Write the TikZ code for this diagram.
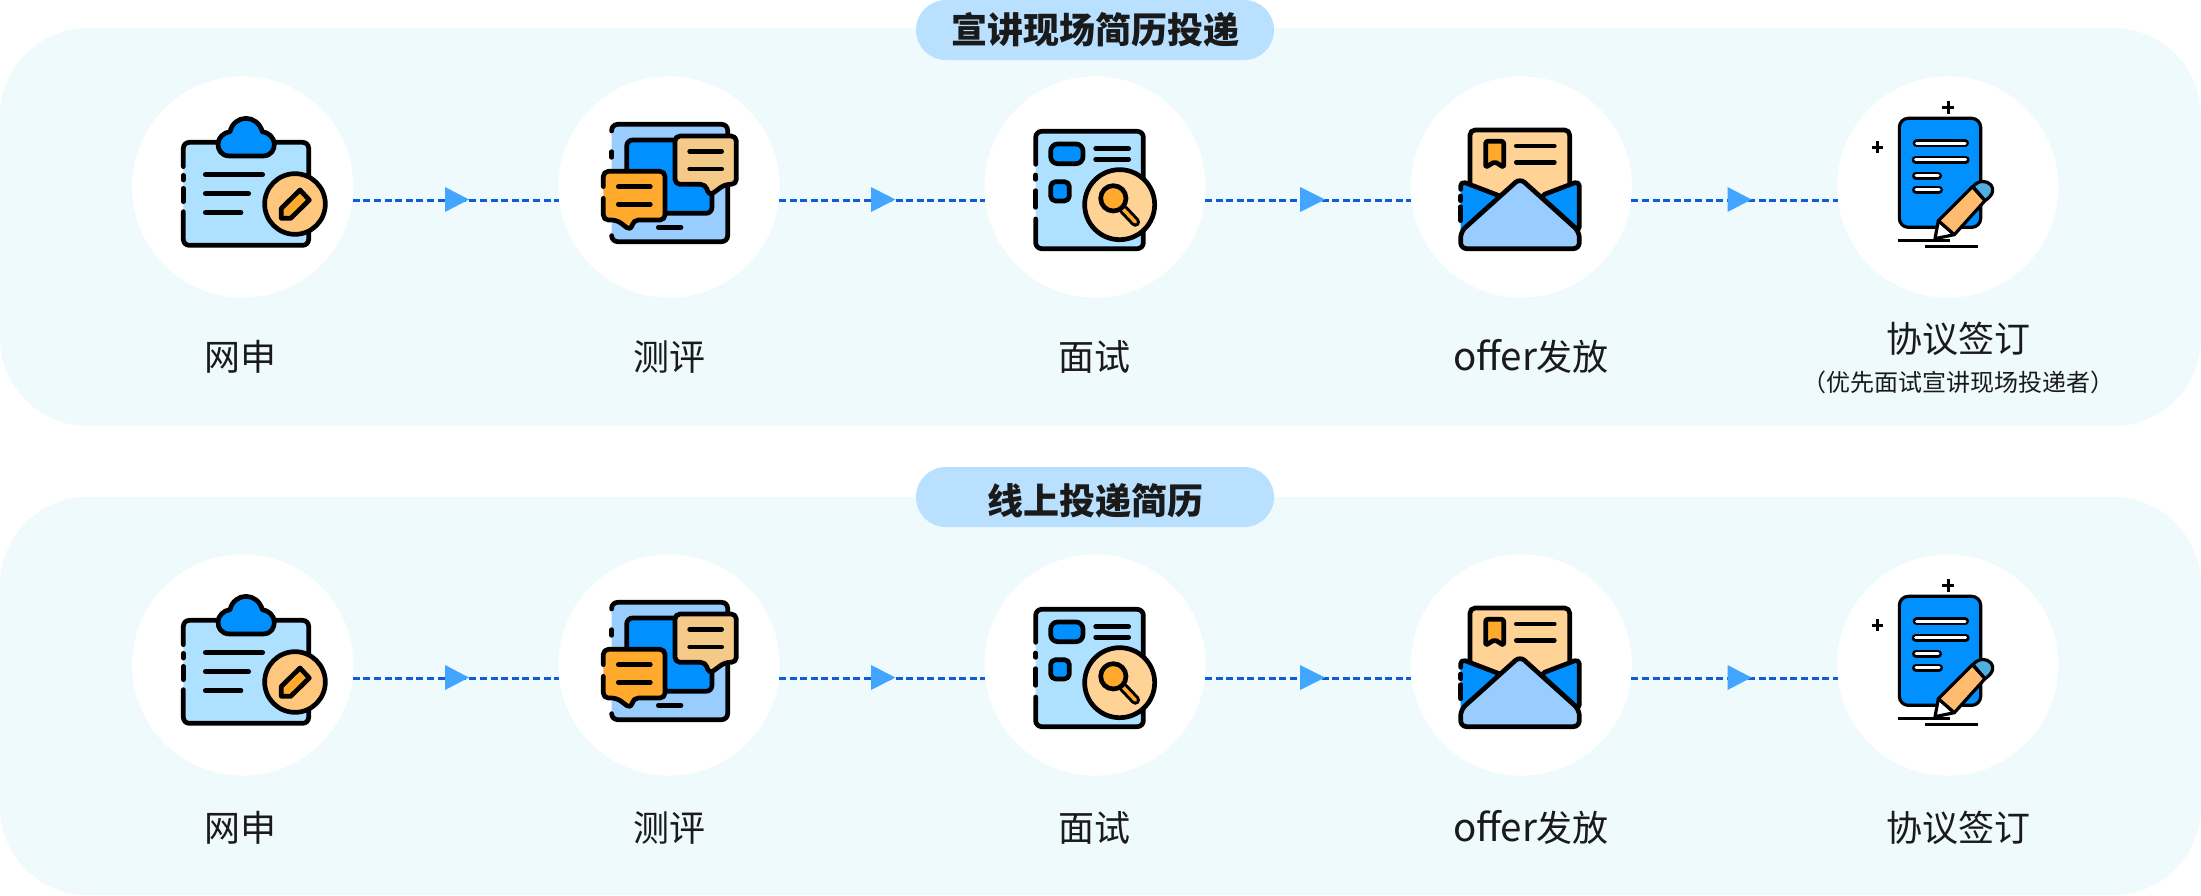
\documentclass[tikz,border=0pt]{standalone}
\usepackage{fontspec}
\setmainfont{Noto Sans CJK SC}
\definecolor{panelbg}{HTML}{EEFAFB}
\definecolor{pillbg}{HTML}{B9E0FF}
\definecolor{dashblue}{HTML}{0F5CD8}
\definecolor{triblue}{HTML}{42A5FF}
\definecolor{inkblack}{HTML}{000000}
\definecolor{txt}{HTML}{1A1A1A}
\definecolor{bluedeep}{HTML}{0090FF}
\definecolor{bluemid}{HTML}{99CCFF}
\definecolor{bluelight}{HTML}{AEE0FF}
\definecolor{orgdeep}{HTML}{FFAA2C}
\definecolor{orgsoft}{HTML}{FFC77D}
\definecolor{orgpale}{HTML}{FFD296}
\definecolor{orgtan}{HTML}{F5C987}
\definecolor{pencilbody}{HTML}{FFBC70}
\definecolor{eraser}{HTML}{4FAFE3}
\tikzset{
  panelbox/.style={fill=panelbg,rounded corners=88pt},
  pillbox/.style={fill=pillbg,draw=none,minimum width=358pt,minimum height=60pt,rounded corners=29.9pt,inner sep=0pt},
  disc/.style={circle,fill=white,draw=none,minimum size=221.4pt,inner sep=0pt},
  conn/.style={draw=dashblue,line width=2.4pt,dash pattern=on 7pt off 3.6pt},
  tri/.style={fill=triblue},
  pilltext/.style={text=txt,font=\fontsize{36}{36}\selectfont\bfseries,inner sep=0pt,text height=30pt,text depth=3pt},
  steptext/.style={text=txt,font=\fontsize{36}{36}\selectfont,inner sep=0pt,text height=30pt,text depth=3pt},
  subtext/.style={text=txt,font=\fontsize{24}{24}\selectfont,inner sep=0pt,text height=20pt,text depth=2pt},
  ic/.style={draw=inkblack,line width=4.7pt,line cap=round,line join=round},
  icthin/.style={draw=inkblack,line width=3.2pt,line cap=round,line join=round},
}
\newcommand{\iconOne}[1]{%
\begin{scope}[shift={(130,70+#1)},x=0.33333pt,y=-0.33333pt]
  \fill[bluelight,rounded corners=6pt] (160,217) rectangle (536,526);
  \draw[ic,rounded corners=6pt] (160,290)--(160,217)--(536,217)--(536,526)--(160,526)--(160,425);
  \draw[ic] (160,316)--(160,330) (160,355)--(160,395);
  \draw[ic,fill=bluedeep] (300,258)--(398,258) .. controls (425,258) and (433,238) .. (433,222) .. controls (433,203) and (415,187) .. (397,185) .. controls (390,160) and (370,145) .. (348,145) .. controls (326,145) and (306,160) .. (300,185) .. controls (282,187) and (264,203) .. (264,222) .. controls (264,238) and (272,258) .. (300,258)--cycle;
  \draw[ic] (226,314)--(398,314) (226,371)--(356,371) (226,428)--(333,428);
  \draw[ic,fill=orgsoft] (495,402) circle[radius=91];
  \draw[ic,fill=orgdeep] (510,360)--(538,390)--(482,445)--(454,445)--(454,415)--cycle;
\end{scope}}
\newcommand{\iconTwo}[1]{%
\begin{scope}[shift={(555,70+#1)},x=0.33333pt,y=-0.33333pt]
  \fill[bluemid,rounded corners=6pt] (170,163) rectangle (518,515);
  \draw[ic,rounded corners=6pt] (170,183)--(170,163)--(518,163)--(518,515)--(170,515)--(170,497);
  \draw[ic] (170,245)--(170,262);
  \draw[ic,fill=bluedeep,rounded corners=6pt] (215,210) rectangle (471,430);
  \draw[ic] (310,472)--(378,472);
  \draw[ic,fill=orgtan,rounded corners=5pt] (360,198)--(544,198)--(544,343)--(510,343)--(462,378)--(452,343)--(360,343)--cycle;
  \draw[ic] (404,244)--(500,244) (404,297)--(500,297);
  \fill[orgdeep,rounded corners=5pt] (145,304)--(330,304)--(330,450)--(235,450)--(228,482)--(185,450)--(145,450)--cycle;
  \draw[ic,rounded corners=5pt] (145,350)--(145,304)--(330,304)--(330,450)--(235,450)--(228,482)--(185,450)--(145,450)--(145,385);
  \draw[ic] (190,350)--(286,350) (190,403)--(286,403);
\end{scope}}
\newcommand{\iconThree}[1]{%
\begin{scope}[shift={(980,70+#1)},x=0.33333pt,y=-0.33333pt]
  \fill[bluelight,rounded corners=6pt] (167,184) rectangle (490,536);
  \draw[ic,rounded corners=6pt] (167,283)--(167,184)--(490,184)--(490,536)--(167,536)--(167,447);
  \draw[ic] (167,315)--(167,328) (167,362)--(167,412);
  \draw[ic,fill=bluedeep,rounded corners=7pt] (212,222) rectangle (309,281);
  \draw[ic] (347,236)--(446,236) (347,268)--(446,268);
  \draw[ic,fill=bluedeep,rounded corners=5pt] (212,335) rectangle (268,393);
  \draw[ic,fill=orgpale] (419,404) circle[radius=105];
  \draw[inkblack,line width=9.5pt,line cap=round] (430,418)--(466,456);
  \draw[orgdeep,line width=3.5pt,line cap=round] (430,418)--(466,456);
  \draw[ic,fill=orgdeep] (400,385) circle[radius=38];
\end{scope}}
\newcommand{\iconFour}[1]{%
\begin{scope}[shift={(1405,70+#1)},x=0.33333pt,y=-0.33333pt]
  \draw[ic,fill=orgpale,rounded corners=5pt] (195,380)--(195,180)--(494,180)--(494,380);
  \draw[ic,fill=orgdeep,rounded corners=2pt] (242,292)--(242,214)--(296,214)--(296,292)--(269,275)--cycle;
  \draw[ic] (334,228)--(448,228) (334,277)--(448,277);
  \fill[bluedeep] (167,333)--(285,378)--(167,485)--cycle;
  \draw[ic,rounded corners=5pt] (167,358)--(167,333)--(285,378);
  \draw[ic] (167,378)--(167,392) (167,410)--(167,452);
  \draw[ic,fill=bluedeep,rounded corners=5pt] (405,378)--(523,333)--(523,485)--cycle;
  \draw[ic,fill=bluemid,rounded corners=6pt] (345,325)--(523,485)--(523,536)--(167,536)--(167,485)--cycle;
\end{scope}}
\newcommand{\iconFive}[1]{%
\begin{scope}[shift={(1835,70+#1)},x=0.33333pt,y=-0.33333pt]
  \draw[inkblack,line width=3pt] (322,113)--(356,113) (339,94)--(339,132) (111,231)--(145,231) (128,212)--(128,250);
  \draw[icthin,fill=bluedeep,rounded corners=9pt] (193,145) rectangle (437,472);
  \draw[inkblack,line width=8pt,line cap=round] (245,220)--(390,220) (242,269)--(392,269) (243,317)--(309,317) (243,359)--(312,359);
  \draw[white,line width=3pt,line cap=round] (245,220)--(390,220) (242,269)--(392,269) (243,317)--(309,317) (243,359)--(312,359);
  \draw[inkblack,line width=3pt] (188,511)--(345,511) (270,530)--(428,530);
  \draw[icthin,fill=white] (310,452)--(300,506)--(358,494)--cycle;
  \draw[icthin,fill=pencilbody] (310,452)--(412,350)--(450,392)--(358,494)--cycle;
  \draw[icthin,fill=eraser] (414,350) .. controls (430,330) and (455,330) .. (468,345) .. controls (478,358) and (475,375) .. (450,392)--cycle;
\end{scope}}
\begin{document}
\begin{tikzpicture}[x=1pt,y=-1pt]
\useasboundingbox (0,0) rectangle (2201,895);
% panels
\fill[panelbox] (0,28) rectangle (2201,426);
\fill[panelbox] (0,497) rectangle (2201,895);
% pills
\node[pillbox] (pillA) at (1095,30) {};
\node[pillbox] (pillB) at (1095,497) {};
\node[pilltext] (pillAtext) at (1095,30) {宣讲现场简历投递};
\node[pilltext] (pillBtext) at (1095.5,501) {线上投递简历};
% discs
\node[disc] (a1) at (242.7,187) {};
\node[disc] (a2) at (669,187) {};
\node[disc] (a3) at (1095,187) {};
\node[disc] (a4) at (1521.3,187) {};
\node[disc] (a5) at (1947.7,187) {};
\node[disc] (b1) at (242.7,665) {};
\node[disc] (b2) at (669,665) {};
\node[disc] (b3) at (1095,665) {};
\node[disc] (b4) at (1521.3,665) {};
\node[disc] (b5) at (1947.7,665) {};
% connectors
\foreach \r in {a,b}{
  \draw[conn] (\r1.-7.2)--(\r2.187.2);
  \draw[conn] (\r2.-7.2)--(\r3.187.2);
  \draw[conn] (\r3.-7.2)--(\r4.187.2);
  \draw[conn] (\r4.-7.2)--(\r5.187.2);
}
% triangles
\foreach \dy in {0,478}{
  \fill[tri] (445,187+\dy)--(469,199.5+\dy)--(445,212+\dy)--cycle;
  \fill[tri] (871,187+\dy)--(895.4,199.5+\dy)--(871,212+\dy)--cycle;
  \fill[tri] (1300,187+\dy)--(1325,199.5+\dy)--(1300,212+\dy)--cycle;
  \fill[tri] (1727.5,187+\dy)--(1751.5,199.5+\dy)--(1727.5,212+\dy)--cycle;
}
% icons
\iconOne{0}\iconTwo{0}\iconThree{0}\iconFour{0}\iconFive{0}
\iconOne{478}\iconTwo{478}\iconThree{478}\iconFour{478}\iconFive{478}
% labels
\newcommand{\offertext}{{\fontsize{38.5}{36}\selectfont offer}发放}
\node[steptext] (la1) at (240,357) {网申};
\node[steptext] (la2) at (669.5,357) {测评};
\node[steptext] (la3) at (1094.7,357) {面试};
\node[steptext] (la4) at (1531,357) {\offertext};
\node[steptext] (la5) at (1958.5,338.5) {协议签订};
\node[subtext] (la6) at (1958.5,382) {（优先面试宣讲现场投递者）};
\node[steptext] (lb1) at (240,827.5) {网申};
\node[steptext] (lb2) at (669.5,827.5) {测评};
\node[steptext] (lb3) at (1094.7,827.5) {面试};
\node[steptext] (lb4) at (1531,827.5) {\offertext};
\node[steptext] (lb5) at (1958.5,827.5) {协议签订};
\end{tikzpicture}
\end{document}
